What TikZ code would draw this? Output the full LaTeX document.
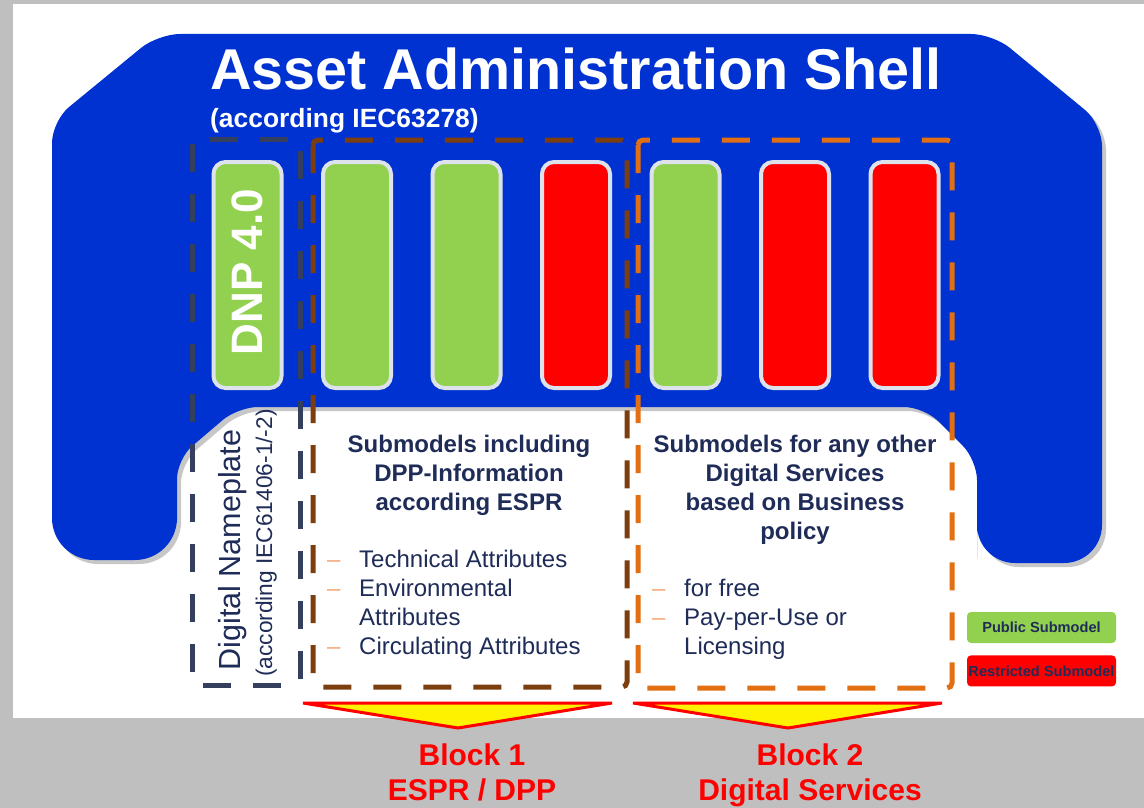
\documentclass[tikz,border=0pt]{standalone}
\usepackage{fontspec}
\setmainfont{Liberation Sans}
\usetikzlibrary{positioning}
\definecolor{aasblue}{RGB}{0,50,210}
\definecolor{pubgreen}{RGB}{146,208,80}
\definecolor{resred}{RGB}{255,0,0}
\definecolor{textnavy}{RGB}{31,44,88}
\definecolor{platenavy}{RGB}{52,63,94}
\definecolor{esprbrown}{RGB}{125,62,14}
\definecolor{servorange}{RGB}{226,112,18}
\definecolor{bulletorange}{RGB}{244,170,125}
\definecolor{pagegray}{RGB}{191,191,191}
\definecolor{barrim}{RGB}{222,226,234}
\tikzset{
    shell/.style={fill=aasblue},
    shellshadow/.style={fill=black, opacity=0.22},
    public/.style={rectangle, rounded corners=12pt, draw=barrim, line width=4pt, fill=pubgreen, minimum width=68pt, minimum height=226pt},
    restricted/.style={public, fill=resred},
    boxline/.style={line width=5pt, dash pattern=on 28pt off 22pt, rounded corners=5pt},
    funnel/.style={fill=yellow, draw=red, line width=3pt, line join=miter},
    headtxt/.style={anchor=north, text=textnavy, font=\bfseries\fontsize{24}{29}\selectfont},
    itemtxt/.style={anchor=north west, text=textnavy, font=\fontsize{24}{29}\selectfont},
    platetxt/.style={rotate=90, anchor=base, text=textnavy},
    legend/.style={rectangle, rounded corners=4pt, minimum width=149pt, minimum height=31pt, text=textnavy, font=\bfseries\fontsize{14.6}{16}\selectfont},
    blocktxt/.style={anchor=north, text=red, font=\bfseries\fontsize{30}{35}\selectfont}
}

\begin{document}
\begin{tikzpicture}
  [
    x                  = 1pt,
    y                  = -1pt,
    every node/.style  = {inner sep=0pt},
  ]
  \useasboundingbox (0,0) rectangle (1144,808);
  \fill [pagegray] (0,0) rectangle (1144,808);
  \fill [white] (13,4) rectangle (1144,718);
  \foreach \dx/\look in {4/shellshadow, 0/shell}
    \fill [\look, shift={(\dx,\dx)}] (52,340) [rounded corners=22pt] -- (52,121) -- (158,34) -- (993,34) -- (1102,124) -- (1102,450)
      [rounded corners=38pt] -- (1102,563) -- (977,563) -- (977,520) [rounded corners=20pt] -- (977,460) -- (924,407) -- (238,407)
      -- (177,459) -- (177,500) [rounded corners=42pt] -- (177,560) -- (52,560) -- cycle;

  \node [anchor=base west, text=white, font=\bfseries\fontsize{57.5}{60}\selectfont] (title) at (210,90) {Asset Administration Shell};
  \node [anchor=base west, text=white, font=\bfseries\fontsize{26.4}{30}\selectfont] (subtitle) at (210,128) {(according IEC63278)};

  \node [public] (sm0) at (247.5,275) {};
  \node [public, right=37.5pt of sm0] (sm1) {};
  \node [public, right=37.5pt of sm1] (sm2) {};
  \node [restricted, right=37.5pt of sm2] (sm3) {};
  \node [public, right=37.5pt of sm3] (sm4) {};
  \node [restricted, right=37.5pt of sm4] (sm5) {};
  \node [restricted, right=37.5pt of sm5] (sm6) {};
  \node [rotate=90, text=white, font=\bfseries\fontsize{44}{48}\selectfont] (dnp) at (247.5,272) {DNP 4.0};

  \draw [boxline, draw=platenavy] (192,139) rectangle (300,685);
  \draw [boxline, draw=esprbrown] (313,140) rectangle (627,687);
  \draw [boxline, draw=servorange] (638,140) rectangle (952,688);

  \node [platetxt, font=\fontsize{30.5}{34}\selectfont] (plate) at (240,550) {Digital Nameplate};
  \node [platetxt, font=\fontsize{22.7}{26}\selectfont] (plateref) at (272,543) {(according IEC61406-1/-2)};

  \node [headtxt] (espr) at (469,431.7) {\begin{tabular}{@{}c@{}}Submodels including\\DPP-Information\\according ESPR\end{tabular}};
  \node [itemtxt] (espritems) at (327,546.7) {\begin{tabular}{@{}p{32pt}@{}l@{}}
    \textcolor{bulletorange}{--} & Technical Attributes\\
    \textcolor{bulletorange}{--} & Environmental\\
    & Attributes\\
    \textcolor{bulletorange}{--} & Circulating Attributes\end{tabular}};
  \node [headtxt] (serv) at (795,431.7) {\begin{tabular}{@{}c@{}}Submodels for any other\\Digital Services\\based on Business\\policy\end{tabular}};
  \node [itemtxt] (servitems) at (652,575.7) {\begin{tabular}{@{}p{32pt}@{}l@{}}
    \textcolor{bulletorange}{--} & for free\\
    \textcolor{bulletorange}{--} & Pay-per-Use or\\
    & Licensing\end{tabular}};

  \node [legend, fill=pubgreen] (legpub) at (1041.5,627.5) {Public Submodel};
  \node [legend, fill=resred, below=12pt of legpub] (legres) {Restricted Submodel};

  \filldraw [funnel] (303,703) -- (612,703) -- (458,728) -- cycle;
  \filldraw [funnel] (633,703) -- (942,703) -- (788,728) -- cycle;
  \node [blocktxt] (blk1) at (472,740.5) {\begin{tabular}{@{}c@{}}Block 1\\ESPR / DPP\end{tabular}};
  \node [blocktxt] (blk2) at (810,740.5) {\begin{tabular}{@{}c@{}}Block 2\\Digital Services\end{tabular}};
\end{tikzpicture}
\end{document}
